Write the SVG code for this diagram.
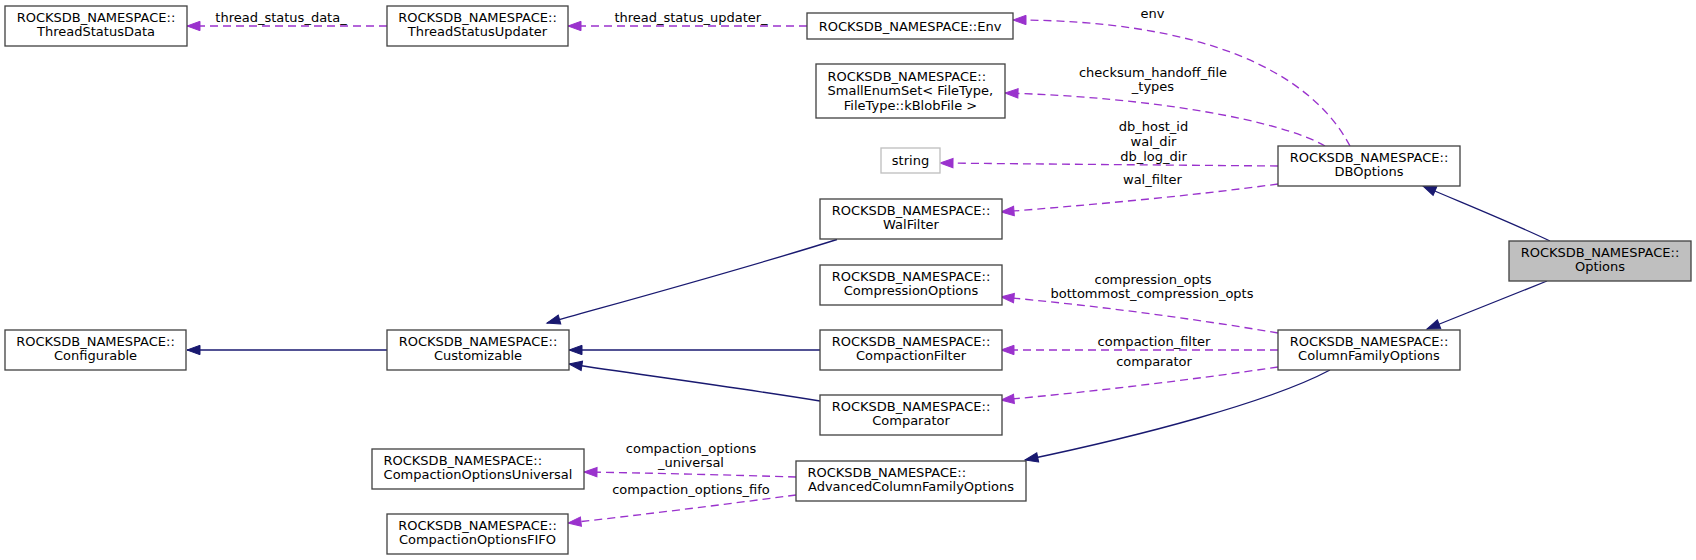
<svg xmlns="http://www.w3.org/2000/svg" width="1696" height="560" viewBox="0 0 1696 560">
<style>
text{font-family:"DejaVu Sans","Liberation Sans",sans-serif;font-size:13px;fill:#000}
.c{text-anchor:middle}
.s{text-anchor:start}
.box{fill:#fff;stroke:#444;stroke-width:1.33}
.gray{fill:#bfbfbf;stroke:#444;stroke-width:1.33}
.lite{fill:#fff;stroke:#bfbfbf;stroke-width:1.33}
.inh{fill:none;stroke:#191970;stroke-width:1.33;marker-end:url(#ab)}
.use{fill:none;stroke:#9a32cd;stroke-width:1.33;stroke-dasharray:8,5;marker-end:url(#ap)}
</style>
<defs>
<marker id="ab" markerUnits="userSpaceOnUse" markerWidth="16" markerHeight="12" refX="13" refY="5" orient="auto" overflow="visible"><path d="M0,0.3 L13,5 L0,9.7 z" fill="#191970" stroke="#191970" stroke-width="1"/></marker>
<marker id="ap" markerUnits="userSpaceOnUse" markerWidth="16" markerHeight="12" refX="13" refY="5" orient="auto" overflow="visible"><path d="M0,0.3 L13,5 L0,9.7 z" fill="#9a32cd" stroke="#9a32cd" stroke-width="1"/></marker>
</defs>
<g id="connectors">
<path class="inh" d="M387,350 L187,350"/>
<path class="inh" d="M837,239.5 C740,270 640,297 547,323"/>
<path class="inh" d="M820,350 L569,350"/>
<path class="inh" d="M820,401 C740,388 650,376 569,364"/>
<path class="inh" d="M1550,241 C1510,222 1465,204 1423,186"/>
<path class="inh" d="M1547,281 C1508,297 1468,313 1427,329"/>
<path class="inh" d="M1330,370 C1270,402 1140,436 1025,460"/>
<path class="use" d="M387,26 L187,26"/>
<path class="use" d="M807,26 L568,26"/>
<path class="use" d="M1350,146 C1310,70 1200,20 1013,20"/>
<path class="use" d="M1325,146 C1280,120 1150,97 1005,93"/>
<path class="use" d="M1278,166 C1160,165 1040,164 940,163"/>
<path class="use" d="M1278,184 C1190,196 1090,205 1001,212"/>
<path class="use" d="M1278,333 C1190,318 1090,305 1001,297"/>
<path class="use" d="M1278,350 L1001,350"/>
<path class="use" d="M1278,367 C1190,380 1090,392 1001,400"/>
<path class="use" d="M796,477 C730,475 650,473 584,472"/>
<path class="use" d="M796,495 C720,505 640,515 568,523"/>
<text class="c" x="281" y="21.5">thread_status_data_</text>
<text class="c" x="691" y="21.5">thread_status_updater_</text>
<text class="c" x="1152.5" y="17.5">env</text>
<text class="c" x="1153" y="77">checksum_handoff_file</text>
<text class="c" x="1153" y="91">_types</text>
<text class="c" x="1153.5" y="131">db_host_id</text>
<text class="c" x="1153.5" y="146">wal_dir</text>
<text class="c" x="1153.5" y="160.5">db_log_dir</text>
<text class="c" x="1152.5" y="183.5">wal_filter</text>
<text class="c" x="1153" y="283.5">compression_opts</text>
<text class="c" x="1152" y="298">bottommost_compression_opts</text>
<text class="c" x="1154" y="346">compaction_filter</text>
<text class="c" x="1154" y="366">comparator</text>
<text class="c" x="691" y="453">compaction_options</text>
<text class="c" x="691" y="467">_universal</text>
<text class="c" x="691" y="493.5">compaction_options_fifo</text>
</g>
<g id="ThreadStatusData"><rect class="box" x="5" y="6" width="182" height="40"/><text class="c" x="96" y="21.5">ROCKSDB_NAMESPACE::</text><text class="c" x="96" y="36">ThreadStatusData</text></g>
<g id="ThreadStatusUpdater"><rect class="box" x="387" y="6" width="181" height="40"/><text class="c" x="477.5" y="21.5">ROCKSDB_NAMESPACE::</text><text class="c" x="477.5" y="36">ThreadStatusUpdater</text></g>
<g id="Env"><rect class="box" x="807" y="13" width="206" height="26"/><text class="c" x="910" y="30.5">ROCKSDB_NAMESPACE::Env</text></g>
<g id="SmallEnumSet"><rect class="box" x="816" y="64" width="189" height="54"/><text class="s" x="827.5" y="80.5">ROCKSDB_NAMESPACE::</text><text class="s" x="827.5" y="95">SmallEnumSet&lt; FileType,</text><text class="c" x="910.5" y="109.5">FileType::kBlobFile &gt;</text></g>
<g id="string"><rect class="lite" x="881" y="148" width="59" height="25"/><text class="c" x="910.5" y="165">string</text></g>
<g id="DBOptions"><rect class="box" x="1278" y="146" width="182" height="40"/><text class="c" x="1369" y="161.5">ROCKSDB_NAMESPACE::</text><text class="c" x="1369" y="176">DBOptions</text></g>
<g id="WalFilter"><rect class="box" x="820" y="199" width="182" height="40"/><text class="c" x="911" y="214.5">ROCKSDB_NAMESPACE::</text><text class="c" x="911" y="229">WalFilter</text></g>
<g id="CompressionOptions"><rect class="box" x="820" y="265" width="182" height="40"/><text class="c" x="911" y="280.5">ROCKSDB_NAMESPACE::</text><text class="c" x="911" y="295">CompressionOptions</text></g>
<g id="CompactionFilter"><rect class="box" x="820" y="330" width="182" height="40"/><text class="c" x="911" y="345.5">ROCKSDB_NAMESPACE::</text><text class="c" x="911" y="360">CompactionFilter</text></g>
<g id="Comparator"><rect class="box" x="820" y="395" width="182" height="40"/><text class="c" x="911" y="410.5">ROCKSDB_NAMESPACE::</text><text class="c" x="911" y="425">Comparator</text></g>
<g id="Configurable"><rect class="box" x="5" y="330" width="181" height="40"/><text class="c" x="95.5" y="345.5">ROCKSDB_NAMESPACE::</text><text class="c" x="95.5" y="360">Configurable</text></g>
<g id="Customizable"><rect class="box" x="387" y="330" width="182" height="40"/><text class="c" x="478" y="345.5">ROCKSDB_NAMESPACE::</text><text class="c" x="478" y="360">Customizable</text></g>
<g id="ColumnFamilyOptions"><rect class="box" x="1278" y="330" width="182" height="40"/><text class="c" x="1369" y="345.5">ROCKSDB_NAMESPACE::</text><text class="c" x="1369" y="360">ColumnFamilyOptions</text></g>
<g id="Options"><rect class="gray" x="1509" y="241" width="182" height="40"/><text class="c" x="1600" y="256.5">ROCKSDB_NAMESPACE::</text><text class="c" x="1600" y="271">Options</text></g>
<g id="CompactionOptionsUniversal"><rect class="box" x="372" y="449" width="212" height="40"/><text class="s" x="383.5" y="464.5">ROCKSDB_NAMESPACE::</text><text class="c" x="478" y="479">CompactionOptionsUniversal</text></g>
<g id="AdvancedColumnFamilyOptions"><rect class="box" x="796" y="461" width="230" height="40"/><text class="s" x="807.5" y="476.5">ROCKSDB_NAMESPACE::</text><text class="c" x="911" y="491">AdvancedColumnFamilyOptions</text></g>
<g id="CompactionOptionsFIFO"><rect class="box" x="387" y="514" width="181" height="40"/><text class="c" x="477.5" y="529.5">ROCKSDB_NAMESPACE::</text><text class="c" x="477.5" y="544">CompactionOptionsFIFO</text></g>
</svg>
